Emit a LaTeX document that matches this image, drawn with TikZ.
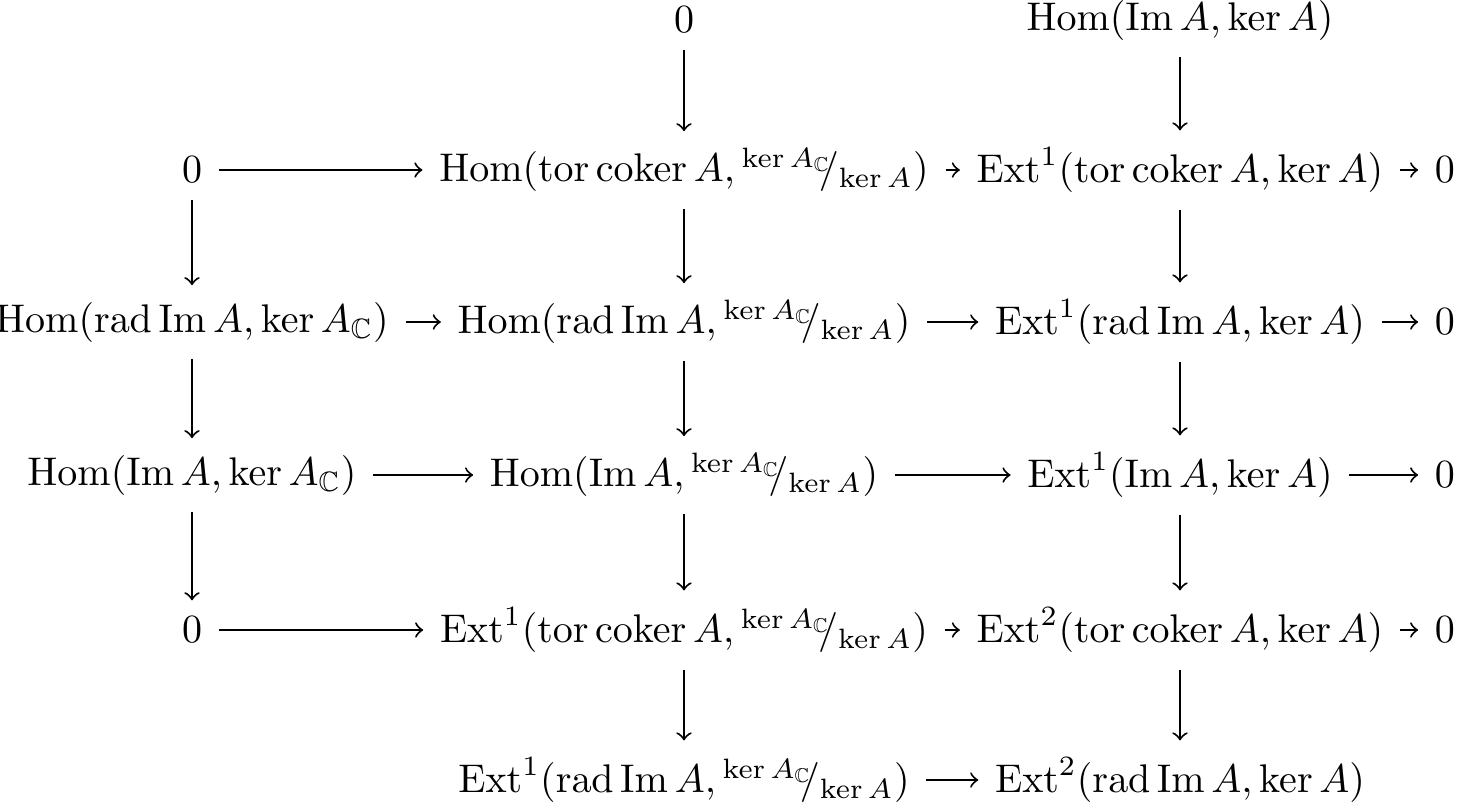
\documentclass[tikz,border=0pt]{standalone}
\usepackage{amsmath,amssymb}
\usepackage{tikz}
\newcommand{\kq}{{}^{\ker A_{\mathbb{C}}}\!\!/_{\ker A}}
\begin{document}
\begin{tikzpicture}[x=0.25pt,y=0.25pt,yscale=-1,xscale=1,
  every node/.style={inner sep=1pt},
  arr/.style={->,line width=0.5pt,shorten >=3pt,shorten <=3pt}]
\useasboundingbox (0,0) rectangle (1461,806);
% top row
\node (z0) at (684,20) {$0$};
\node (hIK) at (1180,20) {$\operatorname{Hom}(\operatorname{Im}A,\ker A)$};
% row 1
\node (z1) at (192,170) {$0$};
\node (hTQ) at (684,170) {$\operatorname{Hom}(\operatorname{tor}\operatorname{coker}A,\kq)$};
\node (eTK) at (1180,170) {$\operatorname{Ext}^1(\operatorname{tor}\operatorname{coker}A,\ker A)$};
\node (z2) at (1445,170) {$0$};
% row 2
\node (hRC) at (192,322) {$\operatorname{Hom}(\operatorname{rad}\operatorname{Im}A,\ker A_{\mathbb{C}})$};
\node (hRQ) at (684,322) {$\operatorname{Hom}(\operatorname{rad}\operatorname{Im}A,\kq)$};
\node (eRK) at (1180,322) {$\operatorname{Ext}^1(\operatorname{rad}\operatorname{Im}A,\ker A)$};
\node (z3) at (1445,322) {$0$};
% row 3
\node (hIC) at (192,475) {$\operatorname{Hom}(\operatorname{Im}A,\ker A_{\mathbb{C}})$};
\node (hIQ) at (684,475) {$\operatorname{Hom}(\operatorname{Im}A,\kq)$};
\node (eIK) at (1180,475) {$\operatorname{Ext}^1(\operatorname{Im}A,\ker A)$};
\node (z4) at (1445,475) {$0$};
% row 4
\node (z5) at (192,630) {$0$};
\node (eTQ) at (684,630) {$\operatorname{Ext}^1(\operatorname{tor}\operatorname{coker}A,\kq)$};
\node (fTK) at (1180,630) {$\operatorname{Ext}^2(\operatorname{tor}\operatorname{coker}A,\ker A)$};
\node (z6) at (1445,630) {$0$};
% row 5
\node (eRQ) at (684,780) {$\operatorname{Ext}^1(\operatorname{rad}\operatorname{Im}A,\kq)$};
\node (fRK) at (1180,780) {$\operatorname{Ext}^2(\operatorname{rad}\operatorname{Im}A,\ker A)$};
% horizontal arrows
\draw[arr] (z1) -- (hTQ);
\draw[arr] (hTQ) -- (eTK);
\draw[arr] (eTK) -- (z2);
\draw[arr] (hRC) -- (hRQ);
\draw[arr] (hRQ) -- (eRK);
\draw[arr] (eRK) -- (z3);
\draw[arr] (hIC) -- (hIQ);
\draw[arr] (hIQ) -- (eIK);
\draw[arr] (eIK) -- (z4);
\draw[arr] (z5) -- (eTQ);
\draw[arr] (eTQ) -- (fTK);
\draw[arr] (fTK) -- (z6);
\draw[arr] (eRQ) -- (fRK);
% vertical arrows
\draw[arr] (z1) -- (hRC);
\draw[arr] (hRC) -- (hIC);
\draw[arr] (hIC) -- (z5);
\draw[arr] (z0) -- (hTQ);
\draw[arr] (hTQ) -- (hRQ);
\draw[arr] (hRQ) -- (hIQ);
\draw[arr] (hIQ) -- (eTQ);
\draw[arr] (eTQ) -- (eRQ);
\draw[arr] (hIK) -- (eTK);
\draw[arr] (eTK) -- (eRK);
\draw[arr] (eRK) -- (eIK);
\draw[arr] (eIK) -- (fTK);
\draw[arr] (fTK) -- (fRK);
\end{tikzpicture}
\end{document}
